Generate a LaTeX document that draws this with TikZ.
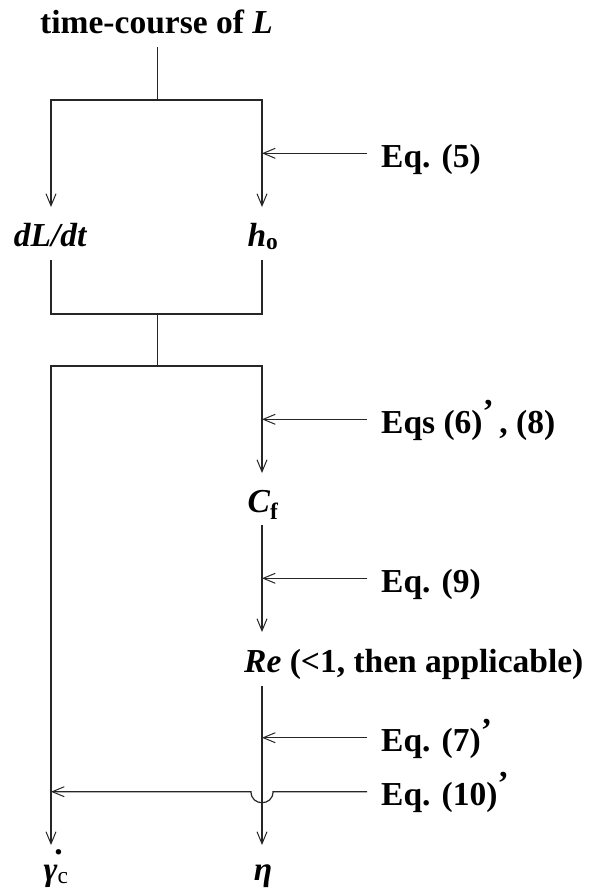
\documentclass[tikz,border=0pt]{standalone}
\usepackage{fontspec}
\setmainfont{Liberation Serif}
\usetikzlibrary{arrows.meta}
\newcommand{\pr}{\raisebox{0.3em}{’}}
\begin{document}
\begin{tikzpicture}[x=1pt,y=-1pt,
  lbl/.style={inner sep=0pt, font=\fontsize{33.5}{40}\selectfont\bfseries, text=black},
  eqlbl/.style={lbl, anchor=base west},
  ln/.style={draw=black!85, line width=1.2pt},
  arr/.style={ln, -{Straight Barb[length=12pt,width=10pt,line width=1pt]}}]
\useasboundingbox[fill=white] (0,0) rectangle (591,895);

% text nodes
\node[lbl, anchor=base] (title) at (156.5,33) {time-course of \textit{L}};
\node[lbl, anchor=base] (dldt) at (50.5,246) {\textit{dL/dt}};
\node[lbl, anchor=base] (ho) at (263,246) {\textit{h}\textsubscript{o}};
\node[lbl, anchor=base] (cf) at (263,512) {\textit{C}\textsubscript{f}};
\node[lbl, anchor=base west] (re) at (244,672) {\textit{Re} (<1, then applicable)};
\node[lbl, anchor=base] (gam) at (56,880) {{\itshape\makebox[0pt][l]{\hspace{0.32em}\raisebox{0.75em}{\upshape.}}γ}\textsubscript{\mdseries c}};
\node[lbl, anchor=base] (eta) at (263,880) {\textit{η}};

\node[eqlbl] (e5) at (381,167) {Eq. (5)};
\node[eqlbl] (e6) at (381,433) {Eqs (6)\pr\,, (8)};
\node[eqlbl] (e9) at (381,592) {Eq. (9)};
\node[eqlbl] (e7) at (381,751.5) {Eq. (7)\pr};
\node[eqlbl] (e10) at (381,805) {Eq. (10)\pr};

% coordinates
\coordinate (tB) at (157.6,47);
\coordinate (jA) at (157.6,100);
\coordinate (dlT) at (51,207);
\coordinate (hoT) at (262,207);
\coordinate (dlB) at (51,260);
\coordinate (hoB) at (262,260);
\coordinate (jB) at (157.6,314);
\coordinate (jC) at (157.6,366);
\coordinate (gT) at (51,845);
\coordinate (cfT) at (262,473);
\coordinate (cfB) at (262,525);
\coordinate (reT) at (262,632);
\coordinate (reB) at (262,686);
\coordinate (etT) at (262,845);

\coordinate (e5s) at (367,153.3);  \coordinate (e5t) at (262,153.3);
\coordinate (e6s) at (367,419.3);  \coordinate (e6t) at (262,419.3);
\coordinate (e9s) at (367,578.3);  \coordinate (e9t) at (262,578.3);
\coordinate (e7s) at (367,737.7);  \coordinate (e7t) at (262,737.7);
\coordinate (e10s) at (367,791.7); \coordinate (e10t) at (51,791.7);
\coordinate (jm1) at (273,791.7);  \coordinate (jm2) at (251,791.7);

% connectors
\draw[ln] (tB) -- (jA);
\draw[arr] (jA) -| (dlT);
\draw[arr] (jA) -| (hoT);
\draw[ln] (dlB) |- (jB) -| (hoB);
\draw[ln] (jB) -- (jC);
\draw[arr] (jC) -| (gT);
\draw[arr] (jC) -| (cfT);
\draw[arr] (cfB) -- (reT);
\draw[arr] (reB) -- (etT);

\draw[arr] (e5s) -- (e5t);
\draw[arr] (e6s) -- (e6t);
\draw[arr] (e9s) -- (e9t);
\draw[arr] (e7s) -- (e7t);
\draw[arr] (e10s) -- (jm1) .. controls (273,806.4) and (251,806.4) .. (jm2) -- (e10t);
\end{tikzpicture}
\end{document}
